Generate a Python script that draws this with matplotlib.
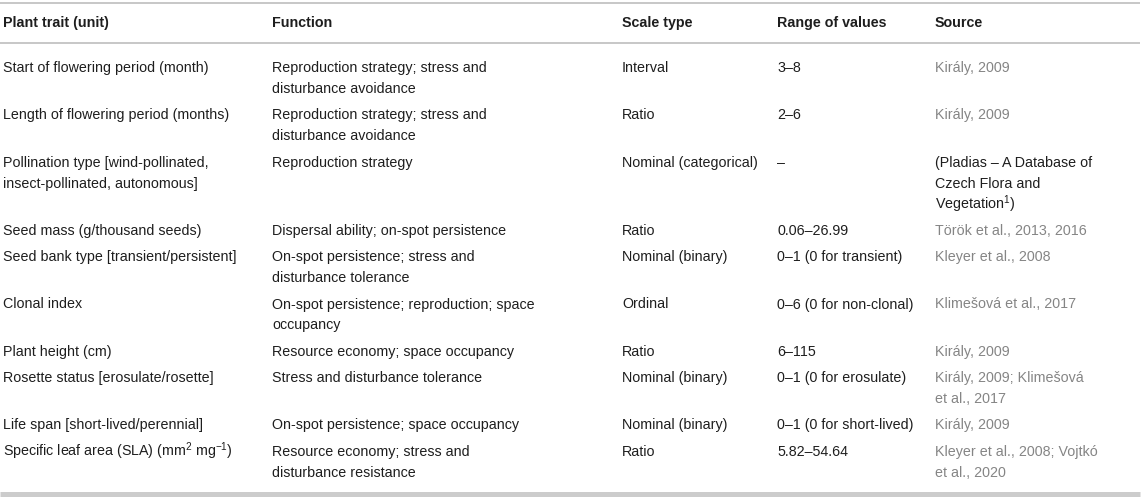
import matplotlib
matplotlib.use("Agg")
import matplotlib.pyplot as plt

plt.rcParams['font.family'] = ['Liberation Sans', 'DejaVu Sans']
plt.rcParams['mathtext.fontset'] = 'custom'
plt.rcParams['mathtext.rm'] = 'Liberation Sans'
plt.rcParams['mathtext.it'] = 'Liberation Sans:italic'
plt.rcParams['mathtext.bf'] = 'Liberation Sans:bold'

headers = ["Plant trait (unit)", "Function", "Scale type", "Range of values", "Source"]

traits = [
    "Start of flowering period (month)",
    "Length of flowering period (months)",
    "Pollination type [wind-pollinated,\ninsect-pollinated, autonomous]",
    "Seed mass (g/thousand seeds)",
    "Seed bank type [transient/persistent]",
    "Clonal index",
    "Plant height (cm)",
    "Rosette status [erosulate/rosette]",
    "Life span [short-lived/perennial]",
    "Specific leaf area (SLA) (mm$^{2}$ mg$^{-1}$)",
]

functions = [
    "Reproduction strategy; stress and\ndisturbance avoidance",
    "Reproduction strategy; stress and\ndisturbance avoidance",
    "Reproduction strategy",
    "Dispersal ability; on-spot persistence",
    "On-spot persistence; stress and\ndisturbance tolerance",
    "On-spot persistence; reproduction; space\noccupancy",
    "Resource economy; space occupancy",
    "Stress and disturbance tolerance",
    "On-spot persistence; space occupancy",
    "Resource economy; stress and\ndisturbance resistance",
]

scale_types = [
    "Interval",
    "Ratio",
    "Nominal (categorical)",
    "Ratio",
    "Nominal (binary)",
    "Ordinal",
    "Ratio",
    "Nominal (binary)",
    "Nominal (binary)",
    "Ratio",
]

ranges = [
    "3–8",
    "2–6",
    "–",
    "0.06–26.99",
    "0–1 (0 for transient)",
    "0–6 (0 for non-clonal)",
    "6–115",
    "0–1 (0 for erosulate)",
    "0–1 (0 for short-lived)",
    "5.82–54.64",
]

sources = [
    "Király, 2009",
    "Király, 2009",
    "(Pladias – A Database of\nCzech Flora and\nVegetation$^{1}$)",
    "Török et al., 2013, 2016",
    "Kleyer et al., 2008",
    "Klimešová et al., 2017",
    "Király, 2009",
    "Király, 2009; Klimešová\net al., 2017",
    "Király, 2009",
    "Kleyer et al., 2008; Vojtkó\net al., 2020",
]

# rows whose source is plain text (not a linked reference)
plain_source_rows = {2}

W, H = 1143, 499
fig = plt.figure(figsize=(W / 100, H / 100), dpi=100)
ax = fig.add_axes([0, 0, 1, 1])
ax.set_xlim(0, W)
ax.set_ylim(H, 0)
ax.axis('off')

col_x = [3, 272, 622, 777, 935]
fs = 10.3
txt_col = '#1e1e1e'
link_col = '#858585'
line_h = 21.0
row_pad = 5.3
base_off = 5.0

# rules
ax.plot([0, 1140], [3, 3], color='#bdbdbd', lw=1.2, solid_capstyle='butt')
ax.plot([0, 1140], [43, 43], color='#bdbdbd', lw=1.2, solid_capstyle='butt')
ax.plot([0, 1140], [493.5, 493.5], color='#cccccc', lw=3.6, solid_capstyle='butt')

for x, h in zip(col_x, headers):
    ax.text(x, 22 + base_off, h, fontsize=fs, fontweight='bold', color=txt_col,
            va='baseline', ha='left')

y = 67.0
columns = [traits, functions, scale_types, ranges, sources]
for r in range(len(traits)):
    cells = [c[r] for c in columns]
    nlines = max(len(c.split('\n')) for c in cells)
    for ci, (x, cell) in enumerate(zip(col_x, cells)):
        color = txt_col
        if ci == 4 and r not in plain_source_rows:
            color = link_col
        for li, part in enumerate(cell.split('\n')):
            ax.text(x, y + li * line_h + base_off, part, fontsize=fs, color=color,
                    va='baseline', ha='left')
    y += nlines * line_h + row_pad

fig.savefig('out.png', dpi=100)
